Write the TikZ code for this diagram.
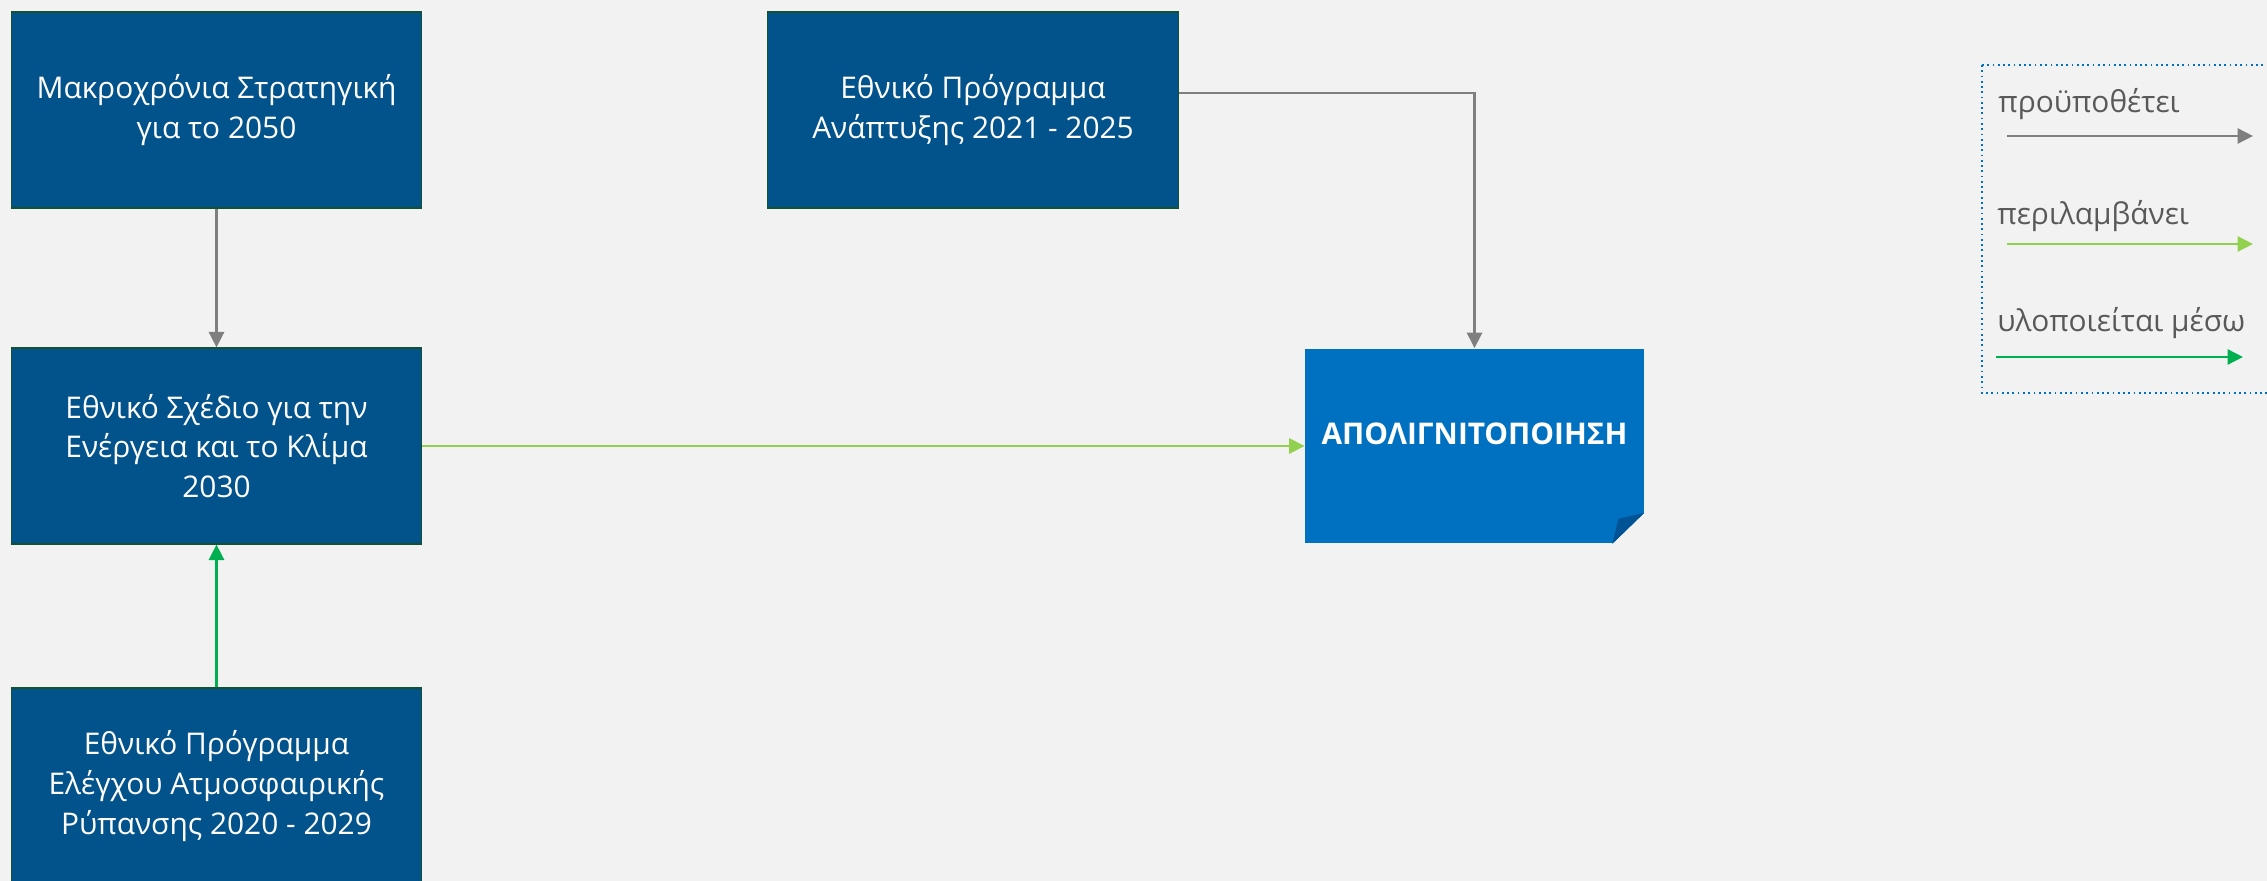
\documentclass[tikz,border=0pt]{standalone}
\usepackage{fontspec}
\setmainfont{Open Sans}
\usepackage{tikz}
\usetikzlibrary{arrows.meta}
\definecolor{boxblue}{RGB}{2, 82, 140}
\definecolor{boxedge}{RGB}{20, 80, 50}
\definecolor{targetblue}{RGB}{0, 112, 192}
\definecolor{foldblue}{RGB}{0, 84, 150}
\definecolor{bggray}{RGB}{242, 242, 242}
\definecolor{prereqgray}{RGB}{127, 127, 127}
\definecolor{lightgreen}{RGB}{146, 208, 80}
\definecolor{darkgreen}{RGB}{0, 176, 80}
\definecolor{legendtext}{RGB}{89, 89, 89}

\begin{document}
\begin{tikzpicture}[x=0.02cm, y=-0.02cm,
    box/.style={rectangle, draw=boxedge, fill=boxblue, line width=0.6pt,
                minimum width=8.22cm, minimum height=3.92cm, align=center,
                text=white, font=\fontsize{17}{22.7}\selectfont, inner sep=0pt},
    target/.style={rectangle, fill=targetblue, minimum width=6.78cm,
                   minimum height=3.9cm, text=white, inner sep=0pt,
                   font=\fontsize{17}{22.7}\selectfont\bfseries},
    arrow/.style={-{Triangle[length=0.31cm, width=0.3cm]}, line width=1.6pt},
    prereq/.style={arrow, color=prereqgray},
    includes/.style={arrow, color=lightgreen},
    via/.style={arrow, color=darkgreen},
    legend_font/.style={font=\fontsize{17}{22.7}\selectfont, text=legendtext,
                        anchor=base west, inner sep=0pt}
  ]
    \fill[bggray] (0,0) rectangle (2267,881);
    \useasboundingbox (0,0) rectangle (2267,881);

    \node[box] (msl)  at (216.5,110) {Μακροχρόνια Στρατηγική\\για το 2050};
    \node[box] (esek) at (216.5,446) {Εθνικό Σχέδιο για την\\Ενέργεια και το Κλίμα\\2030};
    \node[box] (epea) at (216.5,786) {Εθνικό Πρόγραμμα\\Ελέγχου Ατμοσφαιρικής\\Ρύπανσης 2020 - 2029};
    \node[box] (epa)  at (973,110)   {Εθνικό Πρόγραμμα\\Ανάπτυξης 2021 - 2025};
    \node[target] (apol) at (1474.5,446) {\raisebox{0.24cm}[\height][\depth]{ΑΠΟΛΙΓΝΙΤΟΠΟΙΗΣΗ}};

    % folded corner
    \fill[bggray] (apol.south east) -- ++(0,-31) -- ++(-32,31) -- cycle;
    \fill[foldblue] (apol.south east) ++(0,-31) -- ++(-32,31) -- ++(6,-25) -- cycle;

    \draw[prereq] (msl.south) -- (esek.north);
    \draw[via] (epea.north) -- (esek.south);
    \draw[includes] (esek.east) -- (apol.west);
    \draw[prereq] ([yshift=0.34cm]epa.east) -| (apol.north);

    % legend
    \draw[dotted, color=targetblue, line width=1pt] (1982,65) rectangle (2290,393);
    \node[legend_font] (lgprereq)   at (1998,113) {προϋποθέτει};
    \node[legend_font] (lgincludes) at (1997,225) {περιλαμβάνει};
    \node[legend_font] (lgvia)      at (1997,332) {υλοποιείται μέσω};
    \coordinate (p1) at (2007,136);  \coordinate (p2) at (2253,136);
    \coordinate (i1) at (2007,244);  \coordinate (i2) at (2253,244);
    \coordinate (v1) at (1996,357);  \coordinate (v2) at (2243,357);
    \draw[prereq] (p1) -- (p2);
    \draw[includes] (i1) -- (i2);
    \draw[via] (v1) -- (v2);
  \end{tikzpicture}
\end{document}
